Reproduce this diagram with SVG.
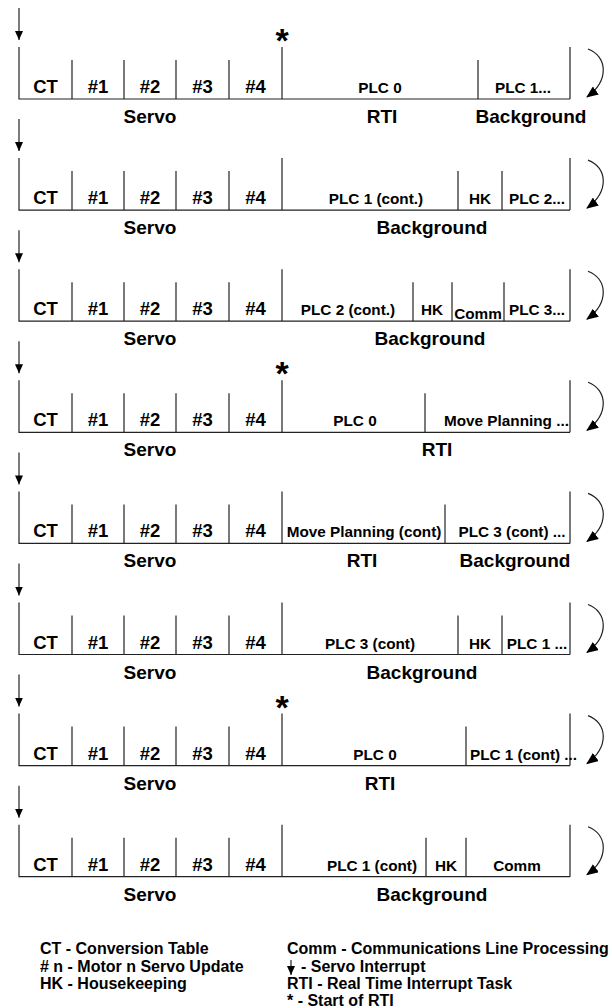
<svg xmlns="http://www.w3.org/2000/svg" width="612" height="1008" viewBox="0 0 612 1008">
<style>
.ln{stroke:#222;stroke-width:1.2;fill:none}
.cell{font-family:"Liberation Sans",Arial,sans-serif;font-weight:bold;font-size:18.5px;text-anchor:middle;fill:#000}
.plc{font-family:"Liberation Sans",Arial,sans-serif;font-weight:bold;font-size:15.3px;text-anchor:middle;fill:#000}
.sec{font-family:"Liberation Sans",Arial,sans-serif;font-weight:bold;font-size:19px;text-anchor:middle;fill:#000}
.leg{font-family:"Liberation Sans",Arial,sans-serif;font-weight:bold;font-size:16px;fill:#000}
.ast{font-family:"Liberation Sans",Arial,sans-serif;font-weight:bold;font-size:34px;text-anchor:middle;fill:#000}
</style>
<defs>
<marker id="ah" markerWidth="12" markerHeight="10" refX="11" refY="5" orient="auto" markerUnits="userSpaceOnUse"><path d="M0,0 L12,5 L0,10 z" fill="#000"/></marker>
<marker id="ad" markerWidth="9" markerHeight="8" refX="9" refY="4" orient="auto" markerUnits="userSpaceOnUse"><path d="M0,0 L9,4 L0,8 z" fill="#000"/></marker>
<g id="servo">
<path class="ln" d="M19,47 V99 H570 M72,60 V99 M124,60 V99 M176,60 V99 M229,60 V99 M282,47 V99 M570,47 V99"/>
<text class="cell" x="45.5" y="93">CT</text>
<text class="cell" x="98" y="93">#1</text>
<text class="cell" x="150" y="93">#2</text>
<text class="cell" x="202.5" y="93">#3</text>
<text class="cell" x="255.5" y="93">#4</text>
<text class="sec" x="150" y="123">Servo</text>
</g>
</defs>

<g id="row1">
<use href="#servo"/>
<text class="ast" x="282" y="52">*</text>
<path class="ln" d="M478,60 V99"/>
<text class="plc" x="380" y="93">PLC 0</text>
<text class="plc" x="523" y="93">PLC 1...</text>
<text class="sec" x="382" y="123">RTI</text>
<text class="sec" x="531" y="123">Background</text>
</g>

<g id="row2" transform="translate(0,111.1)">
<use href="#servo"/>
<path class="ln" d="M458,60 V99 M502,60 V99"/>
<text class="plc" x="376" y="93">PLC 1 (cont.)</text>
<text class="plc" x="480" y="93">HK</text>
<text class="plc" x="537" y="93">PLC 2...</text>
<text class="sec" x="432" y="123">Background</text>
</g>

<g id="row3" transform="translate(0,222.2)">
<use href="#servo"/>
<path class="ln" d="M413,60 V99 M452,60 V99 M504,60 V99"/>
<text class="plc" x="348" y="93">PLC 2 (cont.)</text>
<text class="plc" x="432" y="93">HK</text>
<text class="plc" x="478" y="97">Comm</text>
<text class="plc" x="537" y="93">PLC 3...</text>
<text class="sec" x="430" y="123">Background</text>
</g>

<g id="row4" transform="translate(0,333.3)">
<use href="#servo"/>
<text class="ast" x="282" y="52">*</text>
<path class="ln" d="M425,60 V99"/>
<text class="plc" x="355" y="93">PLC 0</text>
<text class="plc" x="444" y="93" style="text-anchor:start">Move Planning ...</text>
<text class="sec" x="437" y="123">RTI</text>
</g>

<g id="row5" transform="translate(0,444.4)">
<use href="#servo"/>
<path class="ln" d="M445,60 V99"/>
<text class="plc" x="364" y="93">Move Planning (cont)</text>
<text class="plc" x="512" y="93">PLC 3 (cont) ...</text>
<text class="sec" x="362" y="123">RTI</text>
<text class="sec" x="515" y="123">Background</text>
</g>

<g id="row6" transform="translate(0,555.5)">
<use href="#servo"/>
<path class="ln" d="M458,60 V99 M502,60 V99"/>
<text class="plc" x="370" y="93">PLC 3 (cont)</text>
<text class="plc" x="480" y="93">HK</text>
<text class="plc" x="537" y="93">PLC 1 ...</text>
<text class="sec" x="422" y="123">Background</text>
</g>

<g id="row7" transform="translate(0,666.6)">
<use href="#servo"/>
<text class="ast" x="282" y="52">*</text>
<path class="ln" d="M466,60 V99"/>
<text class="plc" x="375" y="93">PLC 0</text>
<text class="plc" x="470" y="93" style="text-anchor:start">PLC 1 (cont) ...</text>
<text class="sec" x="380" y="123">RTI</text>
</g>

<g id="row8" transform="translate(0,777.7)">
<use href="#servo"/>
<path class="ln" d="M426,60 V99 M466,60 V99"/>
<text class="plc" x="372" y="93">PLC 1 (cont)</text>
<text class="plc" x="446" y="93">HK</text>
<text class="plc" x="517" y="93">Comm</text>
<text class="sec" x="432" y="123">Background</text>
</g>

<g id="connectors">
<g><path class="ln" d="M19,8 V40" marker-end="url(#ad)"/><path class="ln" d="M588,49 C607,56 610,80 587,97" marker-end="url(#ah)"/></g>
<g transform="translate(0,111.1)"><path class="ln" d="M19,8 V40" marker-end="url(#ad)"/><path class="ln" d="M588,49 C607,56 610,80 587,97" marker-end="url(#ah)"/></g>
<g transform="translate(0,222.2)"><path class="ln" d="M19,8 V40" marker-end="url(#ad)"/><path class="ln" d="M588,49 C607,56 610,80 587,97" marker-end="url(#ah)"/></g>
<g transform="translate(0,333.3)"><path class="ln" d="M19,8 V40" marker-end="url(#ad)"/><path class="ln" d="M588,49 C607,56 610,80 587,97" marker-end="url(#ah)"/></g>
<g transform="translate(0,444.4)"><path class="ln" d="M19,8 V40" marker-end="url(#ad)"/><path class="ln" d="M588,49 C607,56 610,80 587,97" marker-end="url(#ah)"/></g>
<g transform="translate(0,555.5)"><path class="ln" d="M19,8 V40" marker-end="url(#ad)"/><path class="ln" d="M588,49 C607,56 610,80 587,97" marker-end="url(#ah)"/></g>
<g transform="translate(0,666.6)"><path class="ln" d="M19,8 V40" marker-end="url(#ad)"/><path class="ln" d="M588,49 C607,56 610,80 587,97" marker-end="url(#ah)"/></g>
<g transform="translate(0,777.7)"><path class="ln" d="M19,8 V40" marker-end="url(#ad)"/><path class="ln" d="M588,49 C607,56 610,80 587,97" marker-end="url(#ah)"/></g>
</g>

<g id="legend">
<text class="leg" x="40" y="954">CT - Conversion Table</text>
<text class="leg" x="40" y="971.5"># n - Motor n Servo Update</text>
<text class="leg" x="40" y="989">HK - Housekeeping</text>
<text class="leg" x="287" y="954">Comm - Communications Line Processing</text>
<path class="ln" d="M291,960 V975" marker-end="url(#ad)"/>
<text class="leg" x="301" y="971.5">- Servo Interrupt</text>
<text class="leg" x="287" y="989">RTI - Real Time Interrupt Task</text>
<text class="leg" x="287" y="1006">* - Start of RTI</text>
</g>
</svg>
